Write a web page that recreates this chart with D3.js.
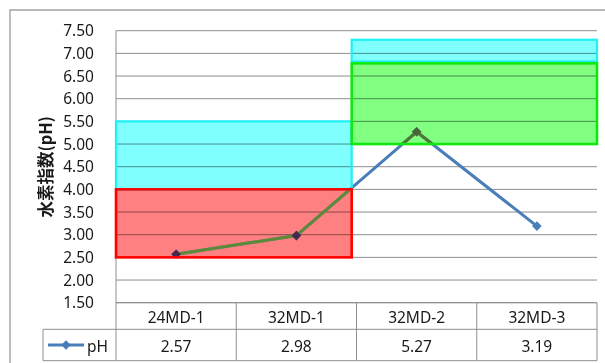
<!DOCTYPE html>
<html>
<head>
<meta charset="utf-8">
<script src="https://cdn.jsdelivr.net/npm/d3@7"></script>
<style>
  html, body { margin: 0; padding: 0; background: #fff; }
  svg { display: block; }
  text { font-family: "Noto Sans", "Noto Sans CJK JP", sans-serif; fill: #1a1a1a; }
</style>
</head>
<body>
<svg id="chart" width="605" height="363"></svg>
<script>
// pH readings per sampling point
const categories = ["24MD-1", "32MD-1", "32MD-2", "32MD-3"];
const phValues = [2.57, 2.98, 5.27, 3.19];
const seriesName = "pH";
const yTicks = [1.5, 2.0, 2.5, 3.0, 3.5, 4.0, 4.5, 5.0, 5.5, 6.0, 6.5, 7.0, 7.5];
const yTitle = "水素指数(pH)";

// Reference zones: span along the category axis (in category units) and pH range
const zoneKind = ["cyan", "red", "cyan", "green"];
const zoneFrom = [0, 0, 1.96, 1.96];
const zoneTo   = [1.96, 1.96, 4, 4];
const zoneLow  = [4.0, 2.5, 6.82, 5.0];
const zoneHigh = [5.5, 4.0, 7.3, 6.78];

const zoneStyle = {
  cyan:  { fill: "#80ffff", stroke: "#1ef0f5", width: 2.2, line: null,      marker: null },
  red:   { fill: "#ff8080", stroke: "#ff0000", width: 2.6, line: "#5f8a35", marker: "#46294f" },
  green: { fill: "#80ff80", stroke: "#10e810", width: 2.6, line: "#4f7a33", marker: "#4a6636" }
};

const zones = zoneKind.map((k, i) => ({
  kind: k, from: zoneFrom[i], to: zoneTo[i], low: zoneLow[i], high: zoneHigh[i], id: "zone" + i
}));

const svg = d3.select("#chart");
const plotLeft = 116, plotRight = 597, plotTop = 30.7, plotBottom = 302.7;
const rowMid = 329.3, rowBot = 360.7, legendLeft = 43;

const x = d3.scaleBand().domain(categories).range([plotLeft, plotRight]).padding(0);
const xu = d3.scaleLinear().domain([0, categories.length]).range([plotLeft, plotRight]);
const y = d3.scaleLinear().domain([1.5, 7.5]).range([plotBottom, plotTop]);

// Outer chart frame
svg.append("path")
  .attr("d", `M10,363 V10 H605`)
  .attr("fill", "none").attr("stroke", "#a2a2a2").attr("stroke-width", 1.4);

// Horizontal gridlines
svg.append("g").selectAll("line").data(yTicks).join("line")
  .attr("x1", plotLeft).attr("x2", plotRight)
  .attr("y1", d => y(d)).attr("y2", d => y(d))
  .attr("stroke", "#8e8e8e").attr("stroke-width", 1);

// Value axis line
svg.append("line").attr("x1", plotLeft).attr("x2", plotLeft).attr("y1", plotTop).attr("y2", rowBot)
  .attr("stroke", "#8e8e8e").attr("stroke-width", 1);

// Y tick labels
const yAxis = d3.axisLeft(y).tickValues(yTicks).tickFormat(d3.format(".2f")).tickSize(0).tickPadding(22);
const gy = svg.append("g").attr("transform", `translate(${plotLeft},0)`).call(yAxis);
gy.select(".domain").remove();
gy.selectAll("text").style("font-size", "15.5px").attr("fill", "#1a1a1a")
  .style("font-family", '"Noto Sans", sans-serif');

// Axis title
svg.append("text")
  .attr("transform", `translate(45,${(plotTop + plotBottom) / 2}) rotate(-90)`)
  .attr("text-anchor", "middle").attr("dominant-baseline", "central")
  .style("font-size", "16.5px").style("font-weight", "bold")
  .style("font-family", '"Noto Sans CJK JP", "Noto Sans", sans-serif')
  .text(yTitle);

// Clip paths for zone interiors
const defs = svg.append("defs");
zones.forEach(z => {
  defs.append("clipPath").attr("id", z.id).append("rect")
    .attr("x", xu(z.from)).attr("y", y(z.high))
    .attr("width", xu(z.to) - xu(z.from)).attr("height", y(z.low) - y(z.high));
});

// Zone fills (multiplied over the gridlines)
svg.append("g").selectAll("rect").data(zones).join("rect")
  .attr("x", d => xu(d.from)).attr("y", d => y(d.high))
  .attr("width", d => xu(d.to) - xu(d.from)).attr("height", d => y(d.low) - y(d.high))
  .attr("fill", d => zoneStyle[d.kind].fill)
  .style("mix-blend-mode", "multiply");

// pH line
const pts = categories.map((c, i) => [x(c) + x.bandwidth() / 2, y(phValues[i])]);
const line = d3.line();
svg.append("path").attr("d", line(pts))
  .attr("fill", "none").attr("stroke", "#4a7ebb").attr("stroke-width", 3)
  .attr("stroke-linejoin", "round");

const diamond = d3.symbol(d3.symbolSquare, 46);
svg.append("g").selectAll("path").data(pts).join("path")
  .attr("d", diamond)
  .attr("transform", d => `translate(${d[0]},${d[1]}) rotate(45)`)
  .attr("fill", "#4a7ebb");

// Line and markers as seen through the tinted zones
zones.filter(z => zoneStyle[z.kind].line).forEach(z => {
  const g = svg.append("g").attr("clip-path", `url(#${z.id})`);
  g.append("path").attr("d", line(pts))
    .attr("fill", "none").attr("stroke", zoneStyle[z.kind].line).attr("stroke-width", 3)
    .attr("stroke-linejoin", "round");
  g.selectAll("path.m").data(pts).join("path").attr("class", "m")
    .attr("d", diamond)
    .attr("transform", d => `translate(${d[0]},${d[1]}) rotate(45)`)
    .attr("fill", zoneStyle[z.kind].marker);
});

// Zone outlines
svg.append("g").selectAll("rect").data(zones).join("rect")
  .attr("x", d => xu(d.from)).attr("y", d => y(d.high))
  .attr("width", d => xu(d.to) - xu(d.from)).attr("height", d => y(d.low) - y(d.high))
  .attr("fill", "none")
  .attr("stroke", d => zoneStyle[d.kind].stroke)
  .attr("stroke-width", d => zoneStyle[d.kind].width);

// Data table under the axis
const tbl = svg.append("g");
const gridStroke = "#8e8e8e";
tbl.append("line").attr("x1", plotLeft).attr("x2", plotRight).attr("y1", plotBottom).attr("y2", plotBottom)
  .attr("stroke", gridStroke);
[rowMid, rowBot].forEach(yy => tbl.append("line")
  .attr("x1", legendLeft).attr("x2", plotRight).attr("y1", yy).attr("y2", yy).attr("stroke", gridStroke));
tbl.append("line").attr("x1", legendLeft).attr("x2", legendLeft).attr("y1", rowMid).attr("y2", rowBot)
  .attr("stroke", gridStroke);
tbl.selectAll("line.sep").data(categories).join("line").attr("class", "sep")
  .attr("x1", d => x(d) + x.bandwidth()).attr("x2", d => x(d) + x.bandwidth())
  .attr("y1", plotBottom).attr("y2", rowBot).attr("stroke", gridStroke);

tbl.selectAll("text.cat").data(categories).join("text").attr("class", "cat")
  .attr("x", d => x(d) + x.bandwidth() / 2).attr("y", (plotBottom + rowMid) / 2 + 1)
  .attr("text-anchor", "middle").attr("dominant-baseline", "central")
  .style("font-size", "15.5px").text(d => d);

tbl.selectAll("text.val").data(phValues).join("text").attr("class", "val")
  .attr("x", (d, i) => x(categories[i]) + x.bandwidth() / 2).attr("y", (rowMid + rowBot) / 2 + 1)
  .attr("text-anchor", "middle").attr("dominant-baseline", "central")
  .style("font-size", "15.5px").text(d => d3.format(".2f")(d));

// Legend key in the table
const ly = (rowMid + rowBot) / 2;
tbl.append("line").attr("x1", 48).attr("x2", 84).attr("y1", ly).attr("y2", ly)
  .attr("stroke", "#4a7ebb").attr("stroke-width", 3);
tbl.append("path").attr("d", diamond).attr("transform", `translate(66,${ly}) rotate(45)`)
  .attr("fill", "#4a7ebb");
tbl.append("text").attr("x", 87).attr("y", ly + 1).attr("dominant-baseline", "central")
  .style("font-size", "15.5px").text(seriesName);
</script>
</body>
</html>
